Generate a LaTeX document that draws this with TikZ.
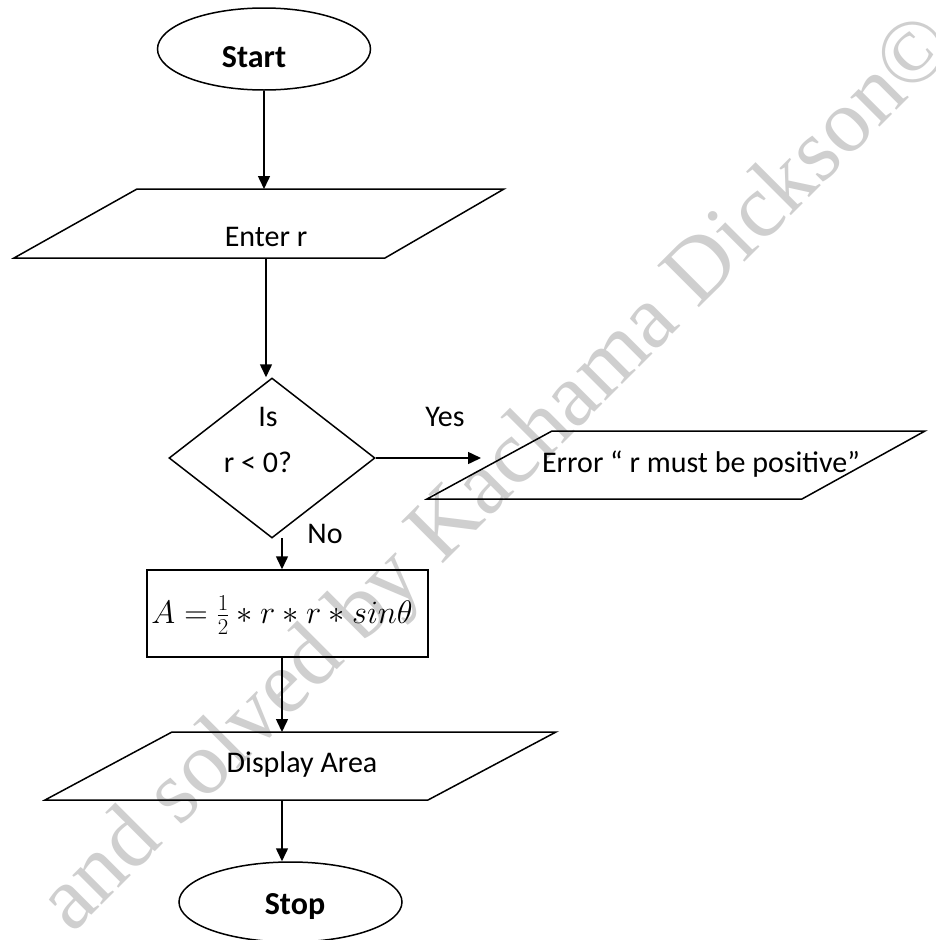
\RequirePackage{fix-cm}
\documentclass[tikz,border=0pt]{standalone}
\usepackage{fontspec}
\setmainfont{Carlito}
\newfontfamily\wmfont{Liberation Serif}
\usetikzlibrary{arrows.meta,shapes.geometric}
\begin{document}
\begin{tikzpicture}[x=1pt,y=-1pt,
  lbl/.style={font=\fontsize{30}{35}\selectfont, inner sep=0pt, anchor=base},
  blbl/.style={lbl, font=\fontsize{32}{37}\selectfont\bfseries},
  shp/.style={draw=black, line width=1.5pt, line join=miter},
  arr/.style={line width=1.5pt, -{Triangle[length=13pt,width=12pt]}},
  wm/.style={text=black!19, font=\wmfont\fontsize{90}{100}\selectfont, rotate=45, anchor=base west, inner sep=0pt}]
\useasboundingbox (0,0) rectangle (935,940);
\fill[white] (0,0) rectangle (935,940);
% watermark
\begin{scope}
\clip (0,0) rectangle (935,940);
\node[wm] (wmark) at (72,935) {and solved by Kachama Dickson©};
\end{scope}
% Start
\node[ellipse, shp, minimum width=213pt, minimum height=82pt, inner sep=0pt] (start) at (264,49) {};
\node[blbl] (starttxt) at (254,67) {Start};
% Enter r
\coordinate (e1) at (14,258);
\coordinate (e2) at (137,189);
\coordinate (e3) at (504,189);
\coordinate (e4) at (385,258);
\draw[shp] (e1) -- (e2) -- (e3) -- (e4) -- cycle;
\node[lbl] (enter) at (266,246) {Enter r};
% decision
\node[diamond, shp, minimum width=206pt, minimum height=160pt, inner sep=0pt] (dec) at (272,458) {};
\node[lbl] (is) at (268,426) {Is};
\node[lbl] (cond) at (258,472) {r < 0?};
% error
\coordinate (r1) at (427,499);
\coordinate (r2) at (552,431);
\coordinate (r3) at (925,431);
\coordinate (r4) at (802,499);
\draw[shp] (r1) -- (r2) -- (r3) -- (r4) -- cycle;
\node[lbl] (err) at (701,472) {Error “ r must be positive”};
\coordinate (errin) at (481,458);
\node[lbl] (yes) at (445,426) {Yes};
% calc
\coordinate (nostart) at (282,538);
\node[lbl] (no) at (325,543) {No};
\node[rectangle, shp, minimum width=281pt, minimum height=87pt, inner sep=0pt] (calc) at (287.5,613.5) {};
\node[inner sep=0pt, anchor=base, font=\fontsize{32.5}{38}\selectfont] (formula) at (282,623) {$A=\frac{1}{2}*r*r*sin\theta$};
% display
\coordinate (d1) at (45,800);
\coordinate (d2) at (172,732);
\coordinate (d3) at (556,732);
\coordinate (d4) at (428,800);
\draw[shp] (d1) -- (d2) -- (d3) -- (d4) -- cycle;
\node[lbl] (disp) at (302,772) {Display Area};
% stop
\node[ellipse, shp, minimum width=223pt, minimum height=80pt, inner sep=0pt] (stop) at (290.5,902) {};
\node[blbl] (stoptxt) at (295,914) {Stop};
% connectors
\draw[arr] (start.south) -- (start.south |- e2);
\draw[arr] (enter |- e1) -- (enter |- dec.north);
\draw[arr] (dec.east) -- (errin);
\draw[arr] (nostart) -- (nostart |- calc.north);
\draw[arr] (nostart |- calc.south) -- (nostart |- d2);
\draw[arr] (nostart |- d1) -- (nostart |- stop.north);
\end{tikzpicture}
\end{document}
